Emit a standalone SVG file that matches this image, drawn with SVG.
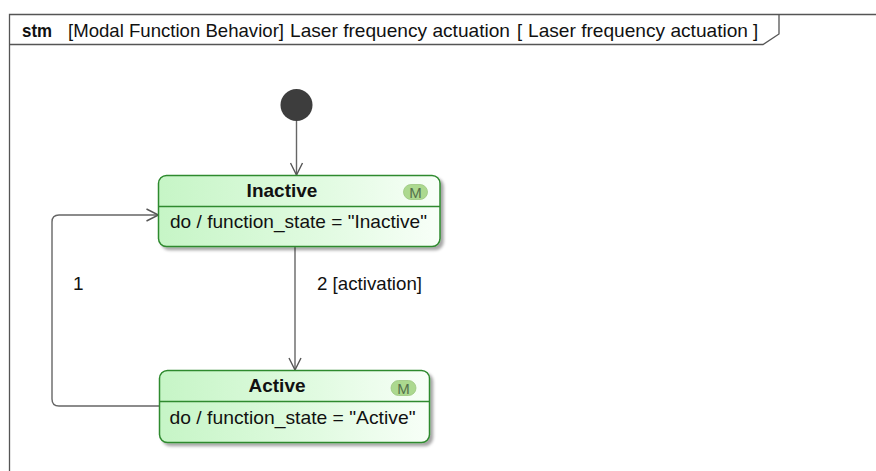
<svg xmlns="http://www.w3.org/2000/svg" width="876" height="471" viewBox="0 0 876 471">
  <defs>
    <linearGradient id="stateFill" x1="0" y1="0" x2="1" y2="0">
      <stop offset="0" stop-color="#c6f5c6"/>
      <stop offset="0.6" stop-color="#e2fbe2"/>
      <stop offset="1" stop-color="#f8fff8"/>
    </linearGradient>
    <filter id="shadow" x="-10%" y="-10%" width="130%" height="140%">
      <feDropShadow dx="3" dy="3" stdDeviation="1.5" flood-color="#000" flood-opacity="0.35"/>
    </filter>
    <marker id="open-arrow" viewBox="0 0 14 14" refX="13" refY="7" markerWidth="14" markerHeight="14" markerUnits="userSpaceOnUse" orient="auto">
      <path d="M1,1 L13,7 L1,13" fill="none" stroke="#555" stroke-width="1.4"/>
    </marker>
  </defs>
  <style>
    text { font-family: "Liberation Sans", Arial, sans-serif; fill: #111; }
    .frame { fill: none; stroke: #555; stroke-width: 1.3; }
    .hdr { font-size: 18.5px; }
    .state-box { fill: url(#stateFill); stroke: #2f8a2f; stroke-width: 1.5; filter: url(#shadow); }
    .divider { stroke: #2f8a2f; stroke-width: 1.5; }
    .title { font-size: 19px; font-weight: bold; text-anchor: middle; }
    .body { font-size: 19px; }
    .badge { fill: #acd98f; stroke: #9cc77f; stroke-width: 0.8; }
    .badge-text { font-size: 15px; text-anchor: middle; fill: #55714c; }
    .edge { fill: none; stroke: #666; stroke-width: 1.4; marker-end: url(#open-arrow); }
    .label { font-size: 19px; }
  </style>

  <rect width="876" height="471" fill="#fff"/>

  <!-- diagram frame with its name tab -->
  <g id="frame">
    <path class="frame" d="M9.5,471 V14.5 H876"/>
    <path class="frame" d="M9.5,44.5 H763 L779,34 V14.5"/>
    <text class="hdr" y="37">
      <tspan x="22" font-weight="bold" textLength="30" lengthAdjust="spacingAndGlyphs">stm</tspan>
      <tspan x="68" textLength="216" lengthAdjust="spacingAndGlyphs">[Modal Function Behavior]</tspan>
      <tspan x="290" textLength="220" lengthAdjust="spacingAndGlyphs">Laser frequency actuation</tspan>
      <tspan x="517">[</tspan>
      <tspan x="528" textLength="220" lengthAdjust="spacingAndGlyphs">Laser frequency actuation</tspan>
      <tspan x="753">]</tspan>
    </text>
  </g>

  <!-- transitions -->
  <g id="connectors">
    <path class="edge" d="M296.5,121 V175"/>
    <path class="edge" d="M295,247 V370"/>
    <path class="edge" d="M159.5,406 H59 Q52,406 52,399 V222 Q52,215 59,215 H158.5"/>
    <text class="label" x="317" y="290" textLength="105" lengthAdjust="spacingAndGlyphs">2 [activation]</text>
    <text class="label" x="73" y="290">1</text>
  </g>

  <!-- initial pseudostate -->
  <g id="initial">
    <circle cx="296.5" cy="105" r="16" fill="#3d3d3d"/>
  </g>

  <!-- state: Inactive -->
  <g id="state-inactive">
    <rect class="state-box" x="158.5" y="175.5" width="281.5" height="71" rx="8"/>
    <line class="divider" x1="158.5" y1="206.5" x2="440" y2="206.5"/>
    <text class="title" x="282" y="197">Inactive</text>
    <rect class="badge" x="403.5" y="184.5" width="24" height="15" rx="7.5"/>
    <text class="badge-text" x="415.5" y="197.5">M</text>
    <text class="body" x="170" y="228" textLength="257" lengthAdjust="spacingAndGlyphs">do /  function_state = "Inactive"</text>
  </g>

  <!-- state: Active -->
  <g id="state-active">
    <rect class="state-box" x="159.5" y="370.5" width="270" height="72" rx="8"/>
    <line class="divider" x1="159.5" y1="401.5" x2="429.5" y2="401.5"/>
    <text class="title" x="277" y="392">Active</text>
    <rect class="badge" x="391" y="380.5" width="25" height="15" rx="7.5"/>
    <text class="badge-text" x="403.5" y="393.5">M</text>
    <text class="body" x="169.5" y="423.5" textLength="246" lengthAdjust="spacingAndGlyphs">do /  function_state = "Active"</text>
  </g>
</svg>
